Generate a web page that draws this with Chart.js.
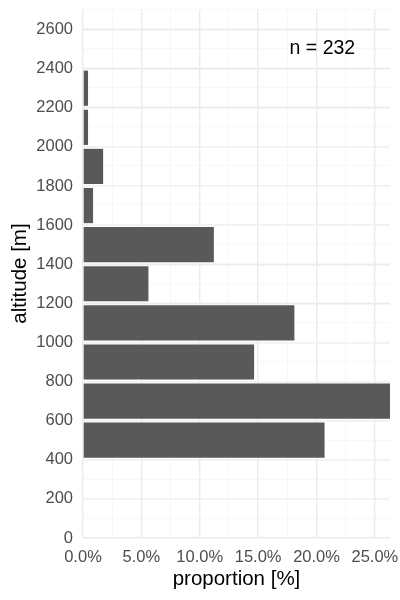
<!DOCTYPE html>
<html>
<head>
<meta charset="utf-8">
<script src="https://cdn.jsdelivr.net/npm/chart.js@4/dist/chart.umd.min.js"></script>
<style>
  body { margin: 0; background: #fff; }
</style>
</head>
<body>
<canvas id="altitudePlot" width="400" height="600"></canvas>
<script>
// histogram of altitudes, 200 m bins (bin centres) and counts per bin
const binCentres = [500, 700, 900, 1100, 1300, 1500, 1700, 1900, 2100, 2300];
const binCounts = [48, 61, 34, 42, 13, 26, 2, 4, 1, 1];
const nTotal = 232;
const proportions = binCounts.map(c => c / nTotal * 100);

const xMax = Math.max(...proportions);
const yMax = 2705;
const labelFont = { family: "'Liberation Sans', Arial, sans-serif", size: 16.5 };
const titleFont = { family: "'Liberation Sans', Arial, sans-serif", size: 20.5 };

function isMajor(v, step) {
    return Math.abs(v / step - Math.round(v / step)) < 1e-6;
}
function tickVal(c) {
    return c && c.tick ? c.tick.value : 0;
}

// "n = 232" label inside the panel
const nLabel = {
    id: 'nLabel',
    afterDraw(chart) {
        const ctx = chart.ctx;
        const x = chart.scales.x.getPixelForValue(20.5);
        const y = chart.scales.y.getPixelForValue(2500);
        ctx.save();
        ctx.font = "19.5px 'Liberation Sans', Arial, sans-serif";
        ctx.fillStyle = '#000';
        ctx.textAlign = 'center';
        ctx.textBaseline = 'middle';
        ctx.fillText('n = ' + nTotal, x, y);
        ctx.restore();
    }
};

const ctx = document.getElementById('altitudePlot').getContext('2d');
new Chart(ctx, {
    type: 'bar',
    data: {
        datasets: [{
            data: binCentres.map((c, i) => ({ x: proportions[i], y: c })),
            backgroundColor: '#595959',
            borderWidth: 0,
            barPercentage: 0.9,
            categoryPercentage: 1
        }]
    },
    options: {
        indexAxis: 'y',
        responsive: false,
        animation: false,
        layout: { padding: { top: 9, right: 10, left: 0, bottom: 0 } },
        plugins: { legend: { display: false }, tooltip: { enabled: false } },
        scales: {
            x: {
                type: 'linear',
                min: 0,
                max: xMax,
                afterFit: s => { s.height = 62; s.paddingLeft = 0; s.paddingRight = 0; },
                border: { display: false },
                grid: {
                    drawTicks: false,
                    color: c => isMajor(tickVal(c), 5) ? '#ebebeb' : '#f3f3f3',
                    lineWidth: c => isMajor(tickVal(c), 5) ? 1.4 : 0.7
                },
                ticks: {
                    stepSize: 2.5,
                    includeBounds: false,
                    maxTicksLimit: 100,
                    autoSkip: false,
                    maxRotation: 0,
                    padding: 10,
                    color: '#4d4d4d',
                    font: labelFont,
                    callback: v => isMajor(v, 5) ? v.toFixed(1) + '%' : ''
                },
                title: {
                    display: true,
                    text: 'proportion [%]',
                    color: '#000',
                    font: titleFont,
                    padding: { top: 0, bottom: 8 }
                }
            },
            y: {
                type: 'linear',
                position: 'left',
                min: 0,
                max: yMax,
                offset: false,
                afterFit: s => { s.width = 83; s.paddingTop = 0; s.paddingBottom = 0; },
                border: { display: false },
                grid: { drawTicks: false, offset: false, color: '#ebebeb', lineWidth: 1.4 },
                ticks: {
                    stepSize: 200,
                    includeBounds: false,
                    maxTicksLimit: 100,
                    autoSkip: false,
                    padding: 10,
                    color: '#4d4d4d',
                    font: labelFont,
                    callback: v => String(v)
                },
                title: {
                    display: true,
                    text: 'altitude [m]',
                    color: '#000',
                    font: titleFont,
                    padding: { top: 8.5, bottom: 0 }
                }
            },
            yMinor: {
                type: 'linear',
                position: 'left',
                min: 0,
                max: yMax,
                offset: false,
                afterFit: s => { s.width = 0; s.paddingTop = 0; s.paddingBottom = 0; },
                border: { display: false },
                grid: {
                    drawTicks: false,
                    offset: false,
                    color: c => isMajor(tickVal(c), 200) ? 'rgba(0,0,0,0)' : '#f3f3f3',
                    lineWidth: 0.7
                },
                ticks: { display: false, stepSize: 100, includeBounds: false, maxTicksLimit: 100 }
            }
        }
    },
    plugins: [nLabel]
});
</script>
</body>
</html>
